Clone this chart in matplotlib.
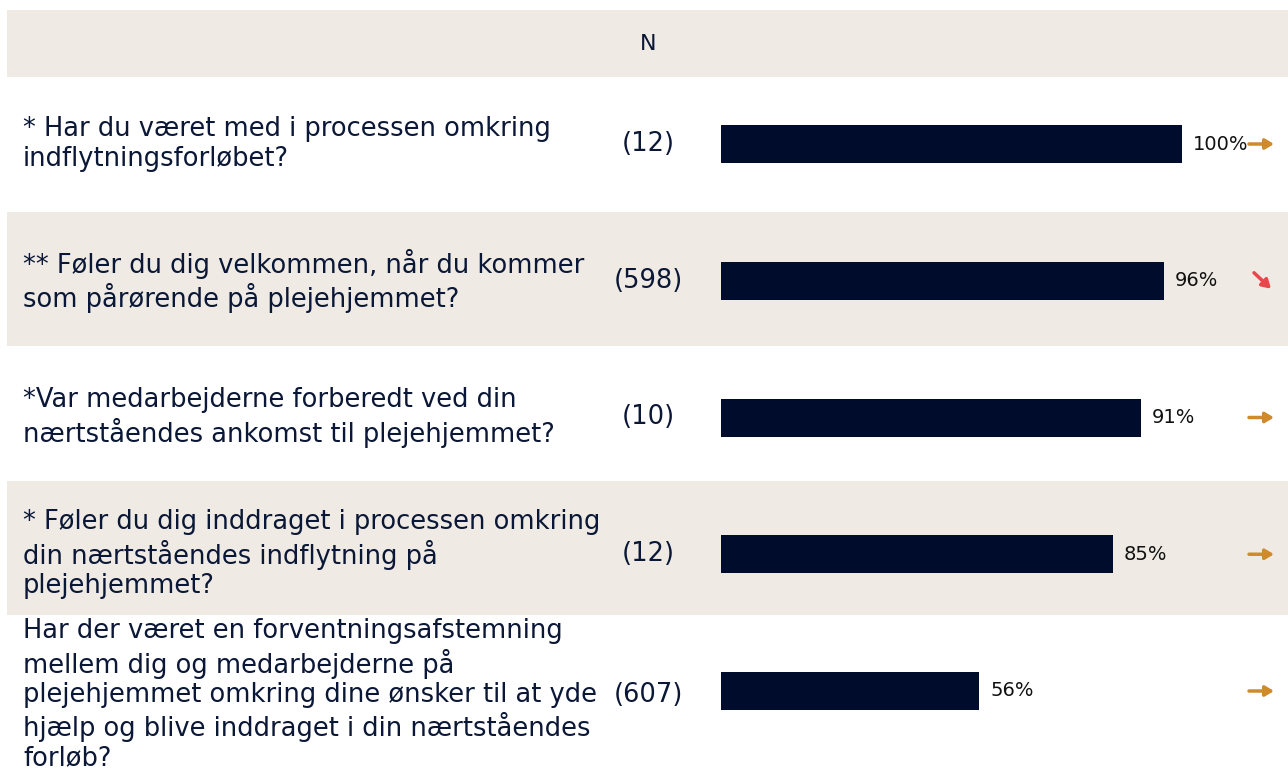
import matplotlib.pyplot as plt
import matplotlib.transforms as mtransforms

plt.rcParams['font.family'] = ['DejaVu Sans']

# Data
questions = [
    "* Har du været med i processen omkring\nindflytningsforløbet?",
    "** Føler du dig velkommen, når du kommer\nsom pårørende på plejehjemmet?",
    "*Var medarbejderne forberedt ved din\nnærtståendes ankomst til plejehjemmet?",
    "* Føler du dig inddraget i processen omkring\ndin nærtståendes indflytning på\nplejehjemmet?",
    "Har der været en forventningsafstemning\nmellem dig og medarbejderne på\nplejehjemmet omkring dine ønsker til at yde\nhjælp og blive inddraget i din nærtståendes\nforløb?",
]
n_values = [12, 598, 10, 12, 607]
percents = [100, 96, 91, 85, 56]
trends = ['flat', 'down', 'flat', 'flat', 'flat']

navy = '#000c2b'
text_col = '#0b1736'
beige = '#efebe4'
orange = '#d08a2c'
red = '#e9474b'

W, H = 1288, 769
fig = plt.figure(figsize=(W / 100, H / 100), dpi=100)
ax = fig.add_axes([0, 0, 1, 1])
ax.set_axis_off()

# x: 0% at pixel 721, 100% at pixel 1182
px_per = (1182 - 721) / 100
ax.set_xlim(-721 / px_per, (W - 721) / px_per)
ax.set_ylim(H, 0)

# mixed transform: x in figure fraction, y in data
fig_x = mtransforms.blended_transform_factory(fig.transFigure, ax.transData)

# header band
ax.add_patch(plt.Rectangle((7 / W, 10), 1, 67, transform=fig_x, color=beige, lw=0, zorder=0))
ax.text(648 / W, 44, "N", transform=fig_x, ha='center', va='center', fontsize=16, color=text_col)

row_step = 136.75
band_step = 134.5
for i, (q, n, p, t) in enumerate(zip(questions, n_values, percents, trends)):
    yc = 144 + row_step * i
    if i % 2 == 1:
        top = 77 + band_step * i
        ax.add_patch(plt.Rectangle((7 / W, top), 1, band_step, transform=fig_x,
                                   color=beige, lw=0, zorder=0))
    ax.barh(yc, p, height=38, left=0, color=navy, zorder=2)
    # last question sits a little lower in its taller row
    ty = yc + (4 if i == len(questions) - 1 else 0)
    ax.text(23 / W, ty, q, transform=fig_x, ha='left', va='center', fontsize=18.5,
            color=text_col, linespacing=1.17)
    ax.text(648 / W, ty, f"({n})", transform=fig_x, ha='center', va='center',
            fontsize=18.5, color=text_col)
    ax.text(p + 2.4, yc, f"{p}%", ha='left', va='center', fontsize=14, color='#111111')
    if t == 'flat':
        ax.annotate('', xy=(1274 / W, yc), xytext=(1249 / W, yc), xycoords=fig_x,
                    textcoords=fig_x,
                    arrowprops=dict(arrowstyle='-|>,head_length=0.5,head_width=0.3',
                                    color=orange, lw=2.5, shrinkA=0, shrinkB=0))
    else:
        ax.annotate('', xy=(1271 / W, yc + 8), xytext=(1254 / W, yc - 8), xycoords=fig_x,
                    textcoords=fig_x,
                    arrowprops=dict(arrowstyle='-|>,head_length=0.5,head_width=0.3',
                                    color=red, lw=2.5, shrinkA=0, shrinkB=0))

fig.savefig('out.png', dpi=100, facecolor='white')
